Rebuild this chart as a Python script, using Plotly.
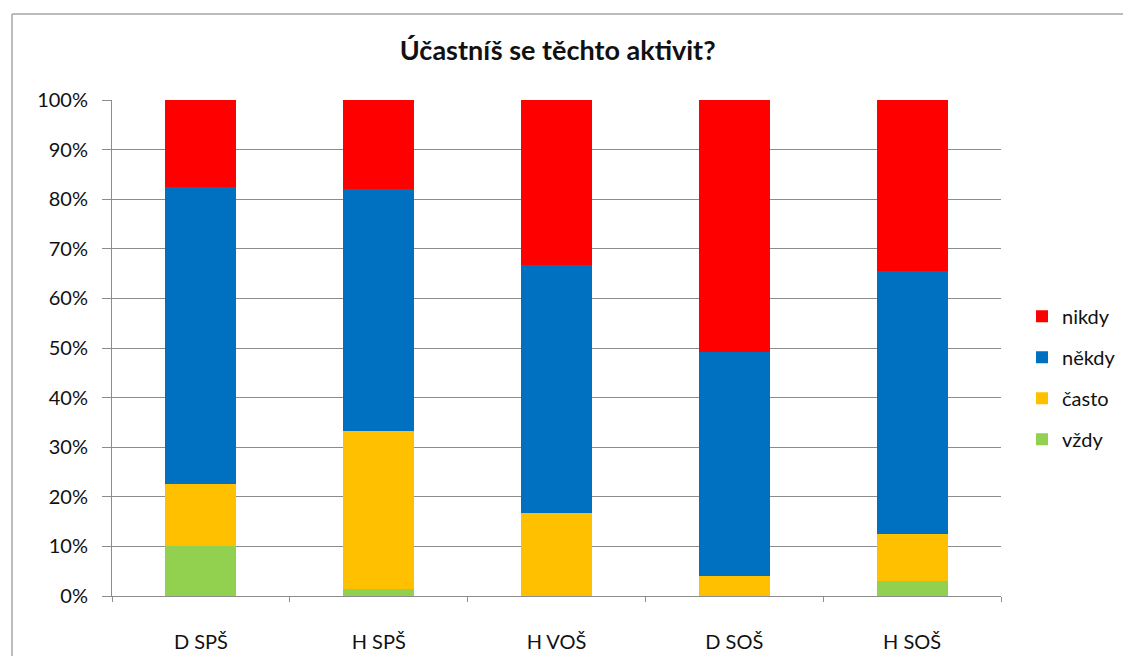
import plotly.graph_objects as go

categories = ["D SPŠ", "H SPŠ", "H VOŠ", "D SOŠ", "H SOŠ"]
vzdy = [10.0, 1.5, 0.0, 0.0, 3.1]
casto = [12.5, 31.8, 16.7, 4.1, 9.4]
nekdy = [60.0, 48.7, 50.0, 45.1, 53.1]
nikdy = [17.5, 18.0, 33.3, 50.8, 34.4]

series = [
    ("vždy", vzdy, "#92D050", 4),
    ("často", casto, "#FFC000", 3),
    ("někdy", nekdy, "#0070C0", 2),
    ("nikdy", nikdy, "#FF0000", 1),
]

FONT = "Lato"
fig = go.Figure()
for i, (name, vals, col, rank) in enumerate(series):
    fig.add_trace(go.Bar(
        x=categories, y=[v / 100 for v in vals], name=name,
        marker=dict(color=col, line=dict(width=0)),
        legendgroup=f"g{i}", legendrank=rank,
    ))

# page body has an 8px margin, so figure coords = screen coords - 8
OFF = 8
W, H = 1131 - 2 * OFF, 664 - 2 * OFF
L = 112 - OFF
T = 100 - OFF
R = W - (1001 - OFF)
B = H - (596.5 - OFF)
pw = W - L - R
ph = H - T - B

border = dict(color="#a6a6a6", width=1.5)
bx = (12 - OFF - L) / pw
by = 1 + (T - (14 - OFF)) / ph

fig.update_layout(
    barmode="stack",
    bargap=0.6,
    width=W, height=H,
    margin=dict(l=L, r=R, t=T, b=B, pad=0, autoexpand=False),
    paper_bgcolor="white",
    plot_bgcolor="white",
    title=dict(text="<b>Účastníš se těchto aktivit?</b>", x=(567 - OFF) / W, xanchor="center",
               xref="paper", y=1 - (51 - OFF) / H, yanchor="middle",
               font=dict(family=FONT, size=27, color="#111111")),
    font=dict(family=FONT, size=20, color="#111111"),
    legend=dict(traceorder="grouped",
                x=(1022 - OFF - L) / pw, xanchor="left",
                y=(596.5 - 378) / ph, yanchor="middle", tracegroupgap=12,
                font=dict(family=FONT, size=20, color="#111111"),
                itemwidth=30, bgcolor="rgba(0,0,0,0)"),
    showlegend=True,
    shapes=[
        dict(type="line", xref="paper", yref="paper", x0=bx, x1=bx,
             y0=-(B + 60) / ph, y1=by, line=border, layer="below"),
        dict(type="line", xref="paper", yref="paper", x0=bx, x1=(1400 - OFF - L) / pw,
             y0=by, y1=by, line=border, layer="below"),
    ],
)
fig.update_yaxes(range=[0, 1], dtick=0.1, tickformat=".0%", automargin=False,
                 showgrid=True, gridcolor="#8c8c8c", gridwidth=1,
                 showline=True, linecolor="#8c8c8c", linewidth=1,
                 ticks="outside", ticklen=9, tickcolor="#8c8c8c",
                 ticklabelstandoff=10, zeroline=False,
                 tickfont=dict(family=FONT, size=20, color="#111111"))
fig.update_xaxes(showline=True, linecolor="#8c8c8c", linewidth=1, automargin=False,
                 ticks="outside", ticklen=5, tickcolor="#8c8c8c",
                 tickson="boundaries", ticklabelstandoff=28,
                 tickfont=dict(family=FONT, size=20, color="#111111"))

fig.write_html("out.html")
